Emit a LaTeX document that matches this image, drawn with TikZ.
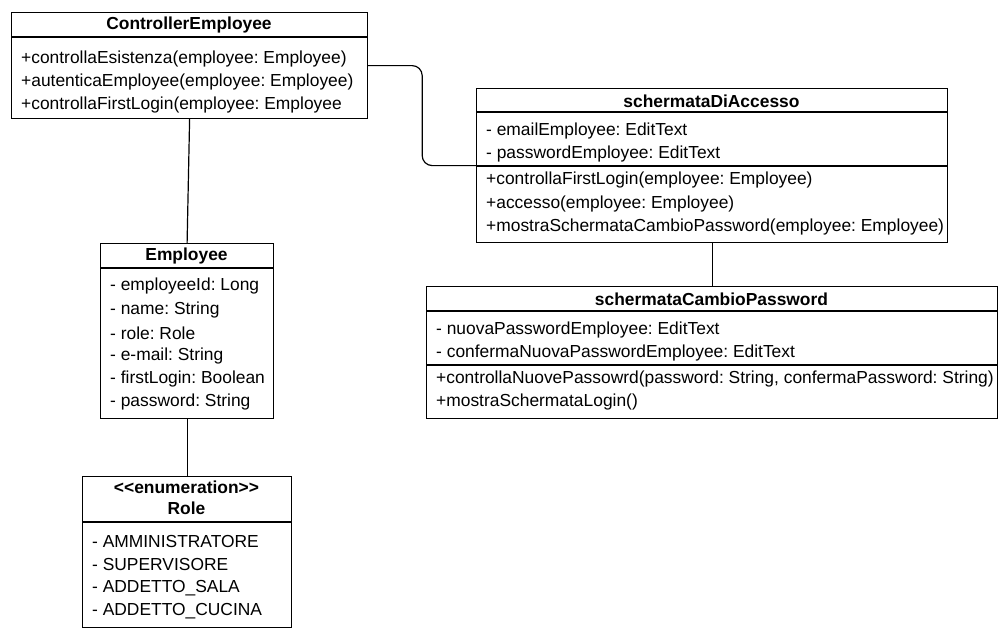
\documentclass[tikz,border=0pt]{standalone}
\usepackage{fontspec}
\setmainfont{Liberation Sans}
\usetikzlibrary{positioning}

\tikzset{
  classbox/.style={draw, line width=1.2pt, anchor=north west, inner sep=0pt},
  member/.style={anchor=west, inner sep=0pt, yshift=-1.8pt},
  classname/.style={inner sep=0pt, yshift=-1.8pt, font=\bfseries\fontsize{17.4}{20.5}\selectfont},
  link/.style={line width=1.2pt}
}

\begin{document}
\frenchspacing
\begin{tikzpicture}[x=1pt, y=-1pt, font=\fontsize{17.4}{21}\selectfont]
  \useasboundingbox (0,0) rectangle (1007,643);

  % ControllerEmployee
  \node [classbox, minimum width=356, minimum height=106] (ctrl) at (11,12) {};
  \draw [link] (11,37) -- (367,37);
  \node [classname] (ctrl-name) at (189,23) {ControllerEmployee};
  \node [member] (ctrl-m1) at (21,57) {+controllaEsistenza(employee: Employee)};
  \node [member] (ctrl-m2) at (21,80) {+autenticaEmployee(employee: Employee)};
  \node [member] (ctrl-m3) at (21,103) {+controllaFirstLogin(employee: Employee};

  % schermataDiAccesso
  \node [classbox, minimum width=471, minimum height=154] (acc) at (476,88) {};
  \draw [link] (476,112) -- (947,112);
  \draw [link] (476,166) -- (947,166);
  \node [classname] (acc-name) at (711.5,99) {schermataDiAccesso};
  \node [member] (acc-a1) at (486,129) {- emailEmployee: EditText};
  \node [member] (acc-a2) at (486,152) {- passwordEmployee: EditText};
  \node [member] (acc-m1) at (486,178) {+controllaFirstLogin(employee: Employee)};
  \node [member] (acc-m2) at (486,202) {+accesso(employee: Employee)};
  \node [member] (acc-m3) at (486,225) {+mostraSchermataCambioPassword(employee: Employee)};

  % Employee
  \node [classbox, minimum width=173, minimum height=175] (emp) at (100,243) {};
  \draw [link] (100,268) -- (273,268);
  \node [classname] (emp-name) at (186.5,254) {Employee};
  \node [member] (emp-a1) at (110,284) {- employeeId: Long};
  \node [member] (emp-a2) at (110,308) {- name: String};
  \node [member] (emp-a3) at (110,331) {- role: Role};
  \node [member] (emp-a4) at (110,354) {- e-mail: String};
  \node [member] (emp-a5) at (110,377) {- firstLogin: Boolean};
  \node [member] (emp-a6) at (110,400) {- password: String};

  % Role
  \node [classbox, minimum width=209, minimum height=151] (role) at (82,476) {};
  \draw [link] (82,522) -- (291,522);
  \node [classname, align=center] (role-name) at (186.5,496) {<\kern0pt<enumeration>\kern0pt>\\Role};
  \node [member] (role-v1) at (92,540) {- AMMINISTRATORE};
  \node [member] (role-v2) at (92,563) {- SUPERVISORE};
  \node [member] (role-v3) at (92,586) {- ADDETTO\_SALA};
  \node [member] (role-v4) at (92,609) {- ADDETTO\_CUCINA};

  % schermataCambioPassword
  \node [classbox, minimum width=571, minimum height=132] (cambio) at (426,286) {};
  \draw [link] (426,311) -- (997,311);
  \draw [link] (426,365) -- (997,365);
  \node [classname] (cambio-name) at (711.5,297) {schermataCambioPassword};
  \node [member] (cambio-a1) at (436,328) {- nuovaPasswordEmployee: EditText};
  \node [member] (cambio-a2) at (436,351) {- confermaNuovaPasswordEmployee: EditText};
  \node [member] (cambio-m1) at (436,377) {+controllaNuovePassowrd(password: String, confermaPassword: String)};
  \node [member] (cambio-m2) at (436,400) {+mostraSchermataLogin()};

  % links
  \draw [link] (ctrl.south) -- (emp.north);
  \draw [link] (emp.south) -- (role.north);
  \draw [link, rounded corners=10] (ctrl.east) -- ++(54,0) |- (acc.west);
  \draw [link] (acc.south) -- (cambio.north);
\end{tikzpicture}
\end{document}
